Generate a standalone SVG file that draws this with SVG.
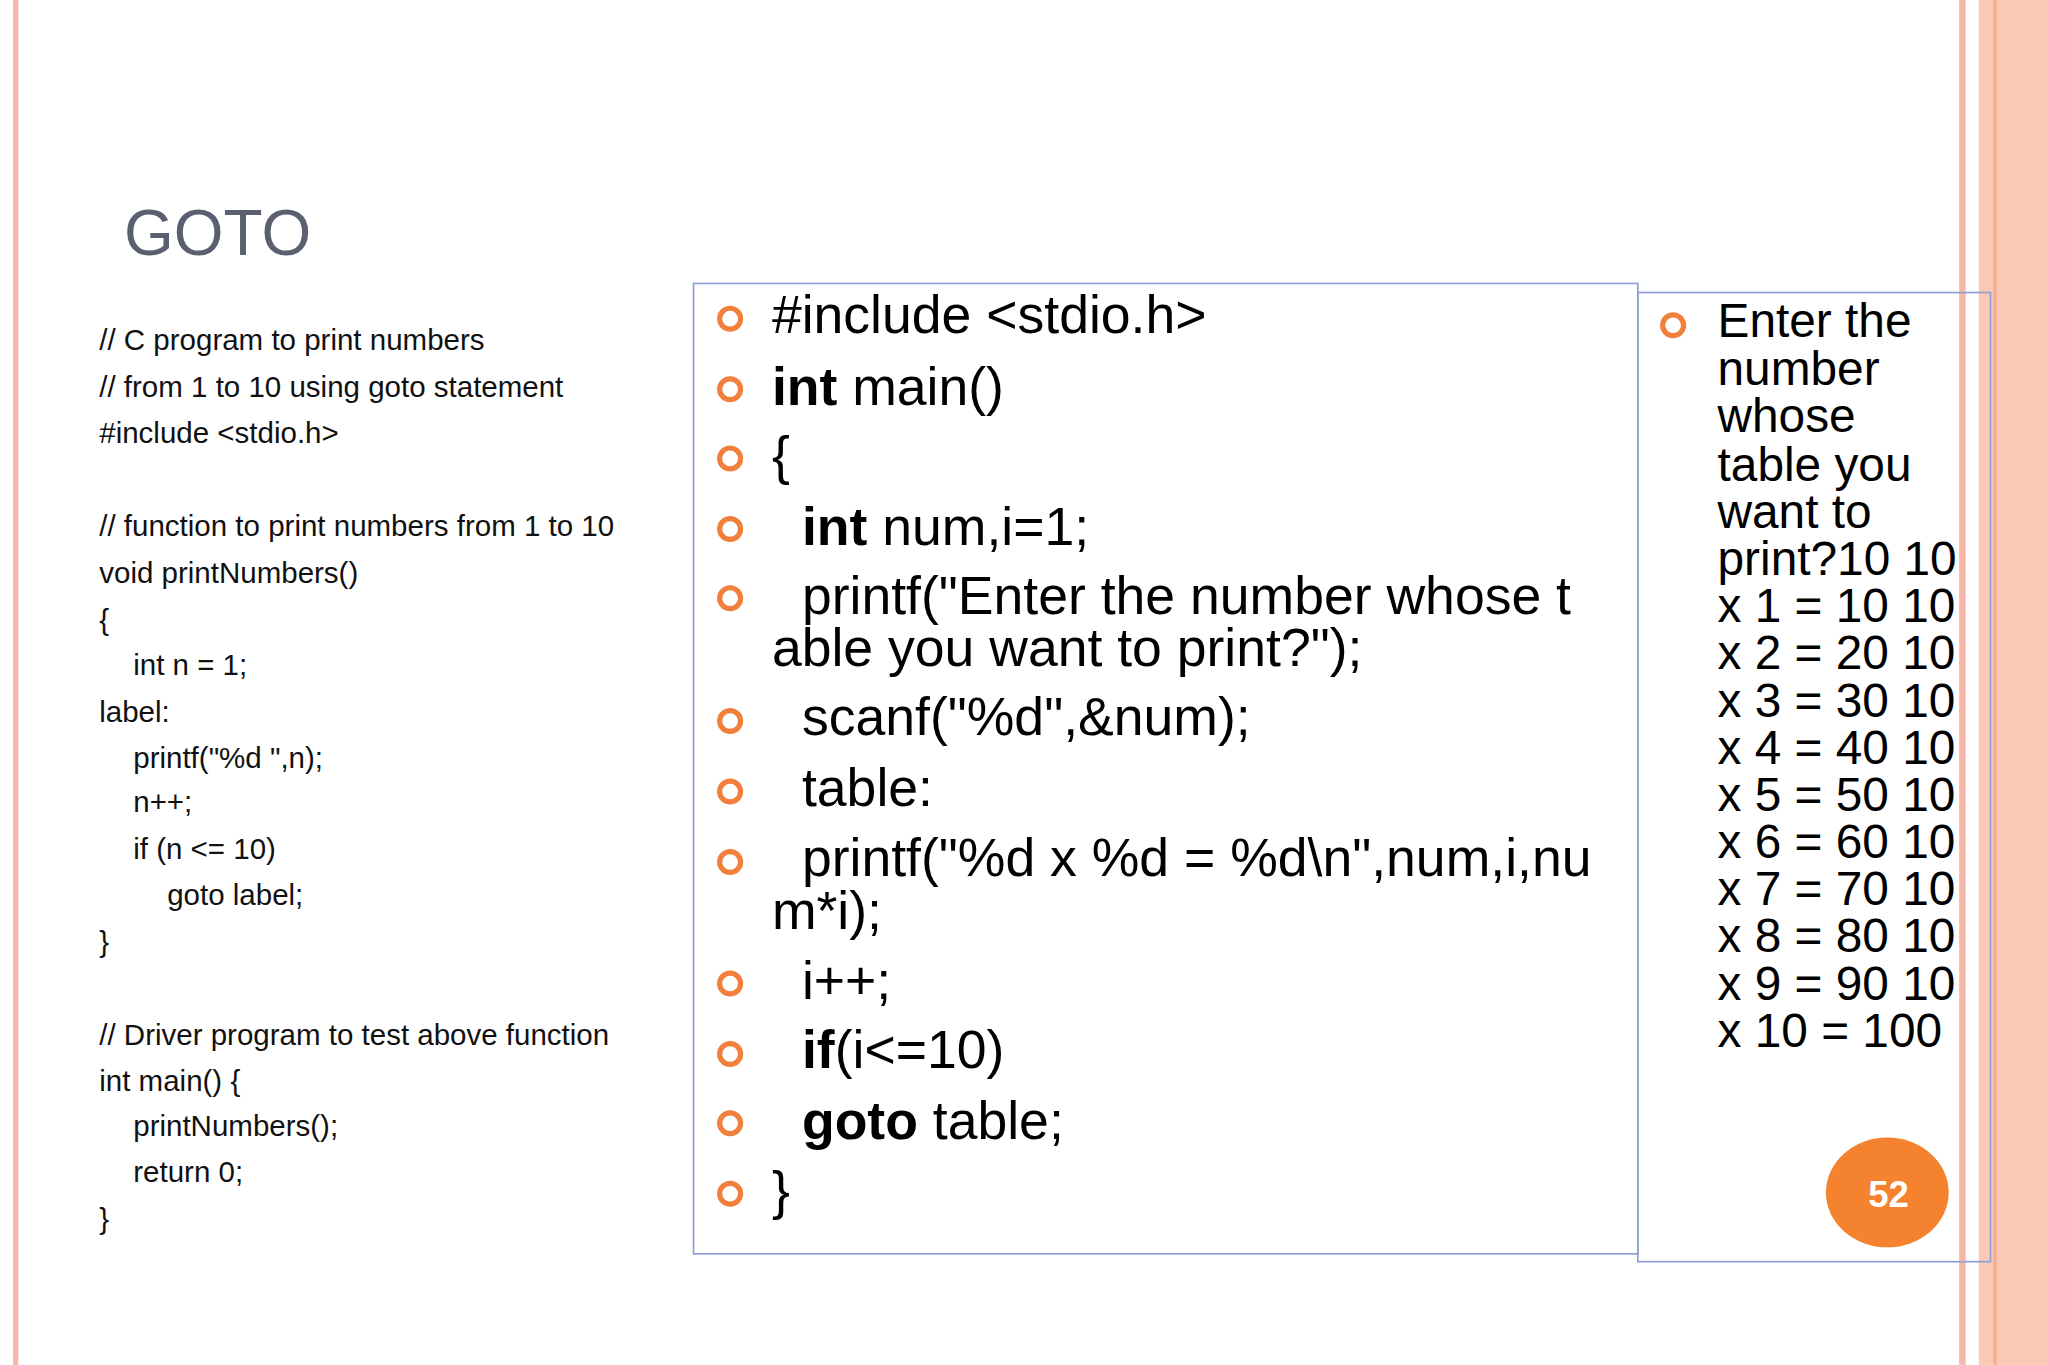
<svg xmlns="http://www.w3.org/2000/svg" width="2048" height="1365" viewBox="0 0 2048 1365">
<style>
.c{font-family:"Liberation Sans",Arial,sans-serif;font-size:22.6px;fill:#111}
.m{font-family:"Liberation Sans",Arial,sans-serif;font-size:41px;fill:#000}
.r{font-family:"Liberation Sans",Arial,sans-serif;font-size:36.6px;fill:#000}
.b{fill:none;stroke:#f0803c;stroke-width:4}
</style>
<rect width="2048" height="1365" fill="#fff"/>
<g transform="scale(1.3061)">
<rect x="10" y="0" width="4" height="1045" fill="#f7b7a8"/>
<rect x="1500" y="0" width="5" height="1045" fill="#f7b7a8"/>
<rect x="1515" y="0" width="53" height="1045" fill="#fccab4"/>
<rect x="1526" y="0" width="3" height="1045" fill="#f5b095"/>
<g id="title"><text x="95" y="195" font-family="Liberation Sans,Arial,sans-serif" font-size="49" fill="#5a6070">GOTO</text></g>
<g id="leftcode">
<text class="c" x="76" y="268">// C program to print numbers</text>
<text class="c" x="76" y="304">// from 1 to 10 using goto statement</text>
<text class="c" x="76" y="339">#include &lt;stdio.h&gt;</text>
<text class="c" x="76" y="410">// function to print numbers from 1 to 10</text>
<text class="c" x="76" y="446">void printNumbers()</text>
<text class="c" x="76" y="482">{</text>
<text class="c" x="102" y="517">int n = 1;</text>
<text class="c" x="76" y="553">label:</text>
<text class="c" x="102" y="588">printf("%d ",n);</text>
<text class="c" x="102" y="622">n++;</text>
<text class="c" x="102" y="658">if (n &lt;= 10)</text>
<text class="c" x="128" y="693">goto label;</text>
<text class="c" x="76" y="729">}</text>
<text class="c" x="76" y="800">// Driver program to test above function</text>
<text class="c" x="76" y="835">int main() {</text>
<text class="c" x="102" y="870">printNumbers();</text>
<text class="c" x="102" y="905">return 0;</text>
<text class="c" x="76" y="941">}</text>
</g>
<g id="midbox">
<rect x="531" y="217" width="723" height="743" fill="none" stroke="#8fa0d8" stroke-width="1.3"/>
<circle class="b" cx="559" cy="244" r="8"/><circle class="b" cx="559" cy="298" r="8"/><circle class="b" cx="559" cy="351" r="8"/><circle class="b" cx="559" cy="405" r="8"/><circle class="b" cx="559" cy="458" r="8"/><circle class="b" cx="559" cy="552" r="8"/><circle class="b" cx="559" cy="606" r="8"/><circle class="b" cx="559" cy="660" r="8"/><circle class="b" cx="559" cy="753" r="8"/><circle class="b" cx="559" cy="807" r="8"/><circle class="b" cx="559" cy="860" r="8"/><circle class="b" cx="559" cy="914" r="8"/>
<text class="m" x="591" y="255">#include &lt;stdio.h&gt;</text>
<text class="m" x="591" y="310"><tspan font-weight="bold">int</tspan> main()</text>
<text class="m" x="591" y="363">{</text>
<text class="m" x="614" y="417"><tspan font-weight="bold">int</tspan> num,i=1;</text>
<text class="m" x="614" y="470">printf("Enter the number whose t</text>
<text class="m" x="591" y="510">able you want to print?");</text>
<text class="m" x="614" y="563">scanf("%d",&amp;num);</text>
<text class="m" x="614" y="617">table:</text>
<text class="m" x="614" y="671">printf("%d x %d = %d\n",num,i,nu</text>
<text class="m" x="591" y="711">m*i);</text>
<text class="m" x="614" y="765">i++;</text>
<text class="m" x="614" y="818"><tspan font-weight="bold">if</tspan>(i&lt;=10)</text>
<text class="m" x="614" y="872"><tspan font-weight="bold">goto</tspan> table;</text>
<text class="m" x="591" y="926">}</text>
</g>
<g id="rightbox">
<rect x="1254" y="224" width="270" height="742" fill="none" stroke="#8fa0d8" stroke-width="1.3"/>
<circle class="b" cx="1281" cy="249" r="8"/>
<text class="r" x="1315" y="258">Enter the</text>
<text class="r" x="1315" y="295">number</text>
<text class="r" x="1315" y="331">whose</text>
<text class="r" x="1315" y="368">table you</text>
<text class="r" x="1315" y="404">want to</text>
<text class="r" x="1315" y="440">print?10 10</text>
<text class="r" x="1315" y="476">x 1 = 10 10</text>
<text class="r" x="1315" y="512">x 2 = 20 10</text>
<text class="r" x="1315" y="549">x 3 = 30 10</text>
<text class="r" x="1315" y="585">x 4 = 40 10</text>
<text class="r" x="1315" y="621">x 5 = 50 10</text>
<text class="r" x="1315" y="657">x 6 = 60 10</text>
<text class="r" x="1315" y="693">x 7 = 70 10</text>
<text class="r" x="1315" y="729">x 8 = 80 10</text>
<text class="r" x="1315" y="766">x 9 = 90 10</text>
<text class="r" x="1315" y="802">x 10 = 100</text>
</g>
<g id="pagenum">
<ellipse cx="1445" cy="913" rx="47" ry="42" fill="#f5822f"/>
<text x="1446" y="924" text-anchor="middle" font-family="Liberation Sans,Arial,sans-serif" font-size="28" font-weight="bold" fill="#fff">52</text>
</g>
</g>
</svg>
